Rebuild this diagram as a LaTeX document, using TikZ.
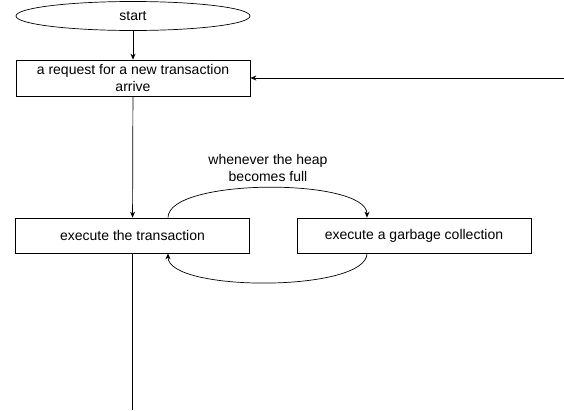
\documentclass[tikz,border=0pt]{standalone}
\usepackage{fontspec}
\setmainfont{Liberation Sans}
\usetikzlibrary{arrows.meta,positioning,shapes.geometric}

\tikzset{
  box/.style={draw, rectangle, inner sep=0pt, minimum width=234pt,
    minimum height=36pt, align=center},
  term/.style={draw, ellipse, inner sep=0pt, minimum width=234pt,
    minimum height=29pt},
  flow/.style={-{Stealth[length=6pt,width=5pt]}}
}

\begin{document}
\begin{tikzpicture}[x=1pt,y=-1pt,line width=0.7pt,font=\fontsize{14}{17}\selectfont]
    \useasboundingbox (0,0) rectangle (564,410);
    \node[term] (start) at (133,16) {start};
    \node[box] (req) at (133,78) {a request for a new transaction\\arrive};
    \node[box,minimum height=35pt] (exec) at (132.5,235.5) {execute the transaction};
    \node[box,minimum height=35pt] (gc) at (414,235.5) {execute a garbage collection};
    \node[align=center] (heap) at (268,168) {whenever the heap\\becomes full};
    \coordinate (back) at (564,78);
    \coordinate (out) at (132.5,410);
    \draw[flow] (start) -- (req);
    \draw[flow] (back) -- (req);
    \draw[flow] (req) -- (exec);
    \draw (exec) -- (out);
    \draw[flow] ([xshift=35.5pt]exec.north) .. controls +(0,-40) and +(0,-40) .. ([xshift=-47pt]gc.north);
    \draw[flow] ([xshift=-47pt]gc.south) .. controls +(0,39) and +(0,39) .. ([xshift=35.5pt]exec.south);
  \end{tikzpicture}
\end{document}
